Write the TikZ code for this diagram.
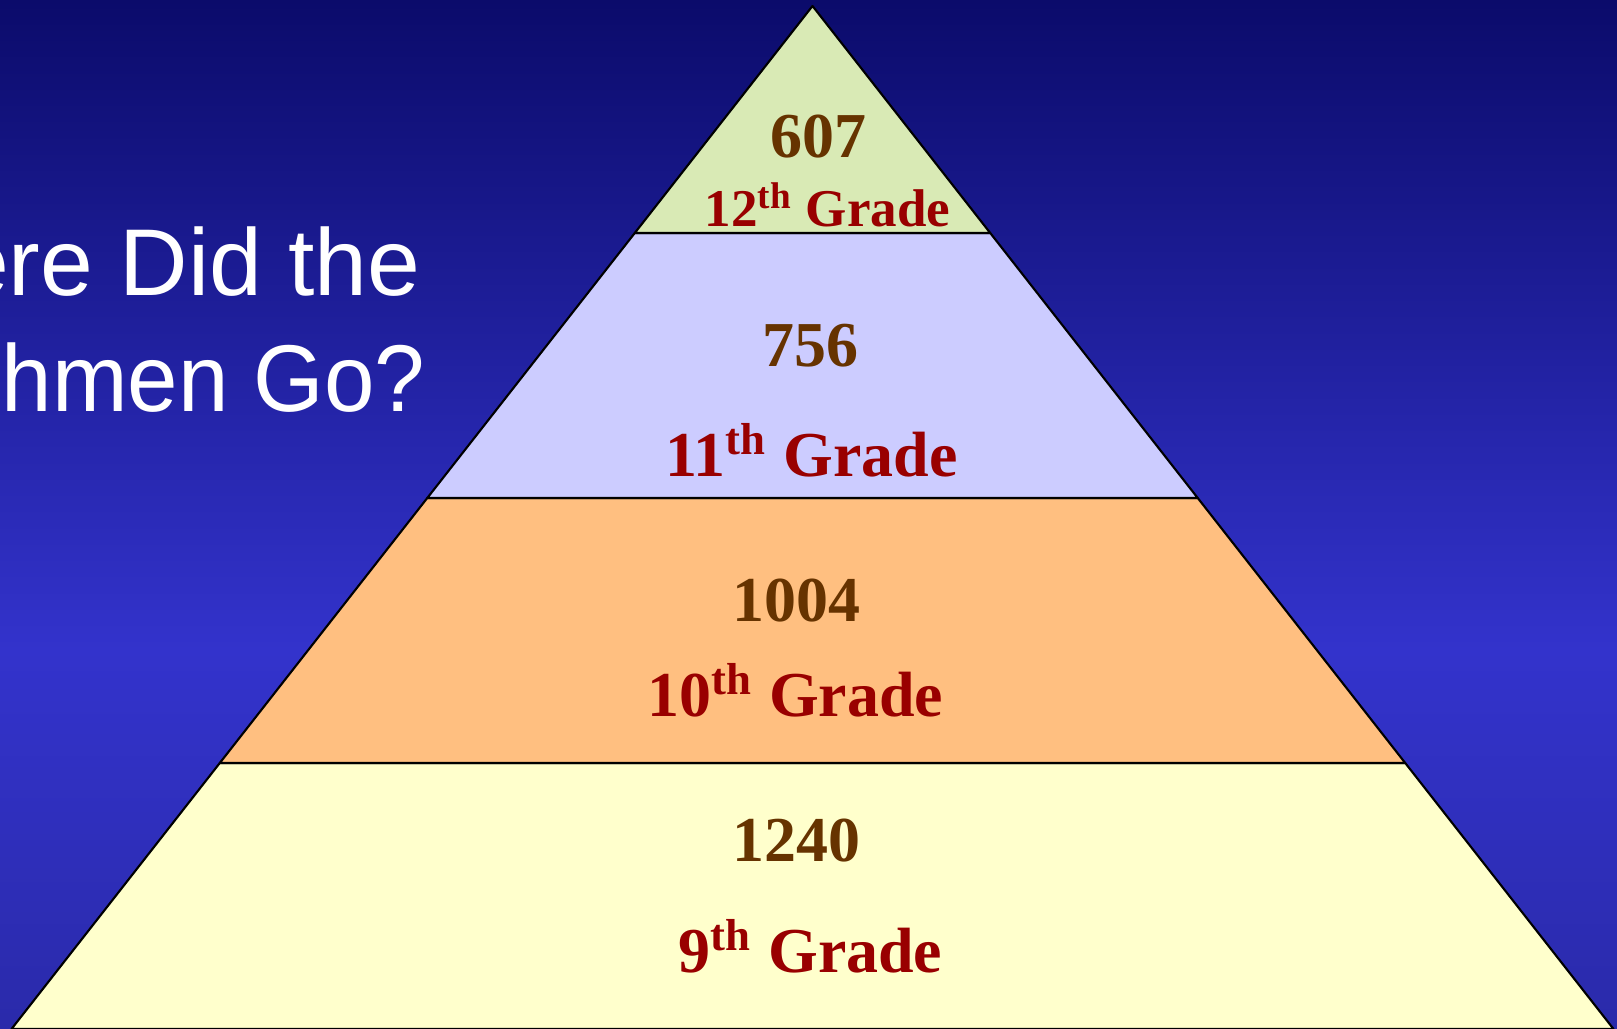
\documentclass[tikz,border=0pt]{standalone}
\usepackage{fontspec}
\setmainfont{Liberation Serif}
\newfontfamily\titlefont{Liberation Sans}
\usepackage{tkz-euclide}
\definecolor{BgTop}{HTML}{0B0B6B}
\definecolor{BgMid}{HTML}{3333CC}
\definecolor{BgBot}{HTML}{2A2AAA}
\definecolor{NumClr}{HTML}{663300}
\definecolor{GradeClr}{HTML}{990000}
\definecolor{TwelveClr}{HTML}{D9EAB5}
\definecolor{ElevenClr}{HTML}{CCCCFF}
\definecolor{TenClr}{HTML}{FFBF80}
\definecolor{NineClr}{HTML}{FFFFCC}

\begin{document}
\begin{tikzpicture}[
  num/.style={anchor=base,inner sep=0pt,text=NumClr,
    font=\fontsize{18.2}{22}\selectfont\bfseries},
  grade/.style={anchor=base,inner sep=0pt,text=GradeClr,
    font=\fontsize{18.2}{22}\selectfont\bfseries},
  title/.style={anchor=base east,inner sep=0pt,text=white,
    font=\titlefont\fontsize{27}{33}\selectfont}]

\useasboundingbox (0,0) rectangle (16.17,10.29);
\clip (0,0) rectangle (16.17,10.29);

% background
\shade[top color=BgTop,bottom color=BgMid] (0,3.79) rectangle (16.17,10.29);
\shade[top color=BgMid,bottom color=BgBot] (0,0) rectangle (16.17,3.79);

\tkzSetUpLine[line width=0.6pt,color=black]

\tkzDefPoints{8.125/10.23/T}
\tkzDefPoints{6.348/7.96/L1,9.902/7.96/R1}
\tkzDefPoints{4.273/5.31/L2,11.977/5.31/R2}
\tkzDefPoints{2.198/2.66/L3,14.052/2.66/R3}
\tkzDefPoints{0.115/0/L4,16.135/0/R4}

% the four layers
\tkzDrawPolygon[line width=0.6pt,fill=NineClr](L4,R4,R3,L3)
\tkzDrawPolygon[line width=0.6pt,fill=TenClr](L3,R3,R2,L2)
\tkzDrawPolygon[line width=0.6pt,fill=ElevenClr](L2,R2,R1,L1)
\tkzDrawPolygon[line width=0.6pt,fill=TwelveClr](L1,R1,T)

\node[num] (n12) at (8.185,8.71) {607};
\node[grade,font=\fontsize{15.1}{19}\selectfont\bfseries] (g12) at (8.275,8.02) {12\textsuperscript{th} Grade};
\node[num] (n11) at (8.105,6.62) {756};
\node[grade] (g11) at (8.115,5.52) {11\textsuperscript{th} Grade};
\node[num] (n10) at (7.965,4.07) {1004};
\node[grade] (g10) at (7.955,3.12) {10\textsuperscript{th} Grade};
\node[num] (n9) at (7.965,1.67) {1240};
\node[grade] (g9) at (8.105,0.56) {9\textsuperscript{th} Grade};

% title, cut off by the left edge
\node[title] (t1) at (4.21,7.33) {Where Did the};
\node[title,xscale=0.956] (t2) at (4.26,6.17) {Freshmen Go?};

\end{tikzpicture}
\end{document}
